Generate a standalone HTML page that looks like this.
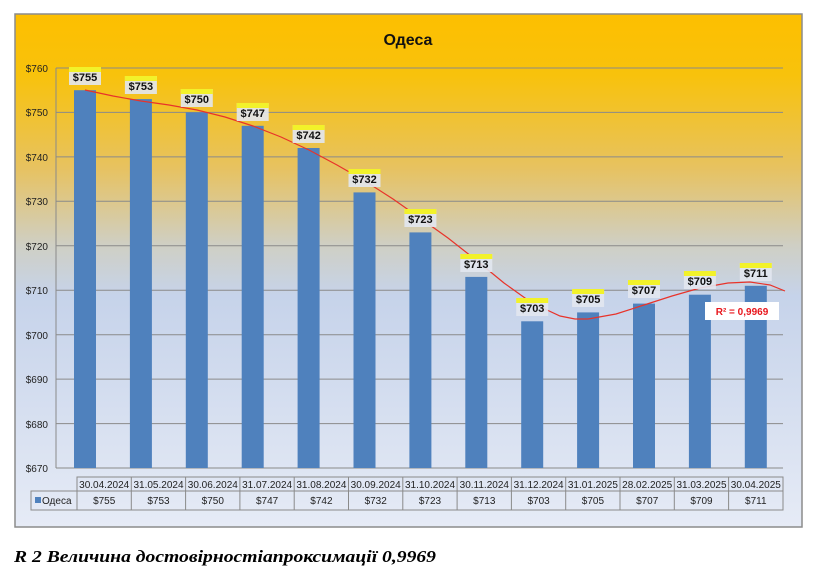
<!DOCTYPE html>
<html><head><meta charset="utf-8"><style>
html,body{margin:0;padding:0;background:#fff;}
svg{display:block;font-family:"Liberation Sans",sans-serif;}
</style></head><body>
<svg width="814" height="587" viewBox="0 0 814 587" xmlns="http://www.w3.org/2000/svg">
<defs>
<linearGradient id="bg" x1="0" y1="0" x2="0" y2="1">
<stop offset="0" stop-color="#fdbf00"/>
<stop offset="0.12" stop-color="#f8c20c"/>
<stop offset="0.3" stop-color="#e7c260"/>
<stop offset="0.45" stop-color="#cfcfc4"/>
<stop offset="0.55" stop-color="#c6d3ea"/>
<stop offset="1" stop-color="#e6ebf6"/>
</linearGradient>
</defs>
<rect x="0" y="0" width="814" height="587" fill="#fff"/>
<rect x="15" y="14" width="787" height="513" fill="url(#bg)" stroke="#8c8c8c" stroke-width="1.5"/>
<text x="408" y="45" font-size="16" font-weight="bold" text-anchor="middle" fill="#111">Одеса</text>
<g stroke="#8a8a8a" stroke-width="1">
<line x1="56" y1="68" x2="783" y2="68"/><line x1="56" y1="112.4" x2="783" y2="112.4"/>
<line x1="56" y1="156.9" x2="783" y2="156.9"/><line x1="56" y1="201.3" x2="783" y2="201.3"/>
<line x1="56" y1="245.8" x2="783" y2="245.8"/><line x1="56" y1="290.2" x2="783" y2="290.2"/>
<line x1="56" y1="334.7" x2="783" y2="334.7"/><line x1="56" y1="379.1" x2="783" y2="379.1"/>
<line x1="56" y1="423.6" x2="783" y2="423.6"/><line x1="56" y1="468" x2="783" y2="468"/>
<line x1="56" y1="68" x2="56" y2="468"/>
</g>
<g font-size="10" fill="#222" text-anchor="end">
<text x="48" y="72">$760</text><text x="48" y="116">$750</text><text x="48" y="161">$740</text>
<text x="48" y="205">$730</text><text x="48" y="250">$720</text><text x="48" y="294">$710</text>
<text x="48" y="339">$700</text><text x="48" y="383">$690</text><text x="48" y="428">$680</text>
<text x="48" y="472">$670</text>
</g>
<g fill="#4f81bd">
<rect x="74" y="90.2" width="22" height="377.8"/>
<rect x="129.9" y="99.1" width="22" height="368.9"/>
<rect x="185.8" y="112.4" width="22" height="355.6"/>
<rect x="241.7" y="125.8" width="22" height="342.2"/>
<rect x="297.6" y="148" width="22" height="320"/>
<rect x="353.5" y="192.4" width="22" height="275.6"/>
<rect x="409.4" y="232.4" width="22" height="235.6"/>
<rect x="465.3" y="276.9" width="22" height="191.1"/>
<rect x="521.2" y="321.3" width="22" height="146.7"/>
<rect x="577.1" y="312.4" width="22" height="155.6"/>
<rect x="633" y="303.6" width="22" height="164.4"/>
<rect x="688.9" y="294.7" width="22" height="173.3"/>
<rect x="744.8" y="285.8" width="22" height="182.2"/>
</g>
<polyline fill="none" stroke="#e8332a" stroke-width="1.2" points="85,90 113,96 141,101 169,105 197,110 225,117 253,126 281,137 309,150 337,165 365,181 393,199 420,218 448,238 476,260 504,283 532,303 560,316 575,319 588,319 616,314 644,305 672,296 700,288 728,283 750,282 770,285 785,291"/>
<g font-size="11" font-weight="bold" fill="#111" text-anchor="middle">
<g><rect x="69" y="67" width="32" height="18" fill="#e2e7ef" opacity="0.9"/><rect x="69" y="67" width="32" height="5" fill="#f2f22a"/><text x="85" y="81">$755</text></g>
<g><rect x="124.9" y="76" width="32" height="18" fill="#e2e7ef" opacity="0.9"/><rect x="124.9" y="76" width="32" height="5" fill="#f2f22a"/><text x="140.9" y="90">$753</text></g>
<g><rect x="180.8" y="89" width="32" height="18" fill="#e2e7ef" opacity="0.9"/><rect x="180.8" y="89" width="32" height="5" fill="#f2f22a"/><text x="196.8" y="103">$750</text></g>
<g><rect x="236.7" y="103" width="32" height="18" fill="#e2e7ef" opacity="0.9"/><rect x="236.7" y="103" width="32" height="5" fill="#f2f22a"/><text x="252.7" y="117">$747</text></g>
<g><rect x="292.6" y="125" width="32" height="18" fill="#e2e7ef" opacity="0.9"/><rect x="292.6" y="125" width="32" height="5" fill="#f2f22a"/><text x="308.6" y="139">$742</text></g>
<g><rect x="348.5" y="169" width="32" height="18" fill="#e2e7ef" opacity="0.9"/><rect x="348.5" y="169" width="32" height="5" fill="#f2f22a"/><text x="364.5" y="183">$732</text></g>
<g><rect x="404.4" y="209" width="32" height="18" fill="#e2e7ef" opacity="0.9"/><rect x="404.4" y="209" width="32" height="5" fill="#f2f22a"/><text x="420.4" y="223">$723</text></g>
<g><rect x="460.3" y="254" width="32" height="18" fill="#e2e7ef" opacity="0.9"/><rect x="460.3" y="254" width="32" height="5" fill="#f2f22a"/><text x="476.3" y="268">$713</text></g>
<g><rect x="516.2" y="298" width="32" height="18" fill="#e2e7ef" opacity="0.9"/><rect x="516.2" y="298" width="32" height="5" fill="#f2f22a"/><text x="532.2" y="312">$703</text></g>
<g><rect x="572.1" y="289" width="32" height="18" fill="#e2e7ef" opacity="0.9"/><rect x="572.1" y="289" width="32" height="5" fill="#f2f22a"/><text x="588.1" y="303">$705</text></g>
<g><rect x="628" y="280" width="32" height="18" fill="#e2e7ef" opacity="0.9"/><rect x="628" y="280" width="32" height="5" fill="#f2f22a"/><text x="644" y="294">$707</text></g>
<g><rect x="683.9" y="271" width="32" height="18" fill="#e2e7ef" opacity="0.9"/><rect x="683.9" y="271" width="32" height="5" fill="#f2f22a"/><text x="699.9" y="285">$709</text></g>
<g><rect x="739.8" y="263" width="32" height="18" fill="#e2e7ef" opacity="0.9"/><rect x="739.8" y="263" width="32" height="5" fill="#f2f22a"/><text x="755.8" y="277">$711</text></g>
</g>
<rect x="705" y="302" width="74" height="18" fill="#fff"/>
<text x="742" y="315" font-size="10" font-weight="bold" fill="#e8151b" text-anchor="middle">R² = 0,9969</text>
<g stroke="#8a8a8a" stroke-width="1" fill="none">
<rect x="77" y="477" width="706" height="33"/>
<rect x="31" y="491" width="46" height="19"/>
<line x1="77" y1="491" x2="783" y2="491"/>
<line x1="131.3" y1="477" x2="131.3" y2="510"/><line x1="185.6" y1="477" x2="185.6" y2="510"/>
<line x1="239.9" y1="477" x2="239.9" y2="510"/><line x1="294.2" y1="477" x2="294.2" y2="510"/>
<line x1="348.5" y1="477" x2="348.5" y2="510"/><line x1="402.8" y1="477" x2="402.8" y2="510"/>
<line x1="457.1" y1="477" x2="457.1" y2="510"/><line x1="511.4" y1="477" x2="511.4" y2="510"/>
<line x1="565.7" y1="477" x2="565.7" y2="510"/><line x1="620" y1="477" x2="620" y2="510"/>
<line x1="674.3" y1="477" x2="674.3" y2="510"/><line x1="728.6" y1="477" x2="728.6" y2="510"/>
</g>
<rect x="35" y="497" width="6" height="6" fill="#4f81bd"/>
<text x="42" y="504" font-size="10" fill="#222">Одеса</text>
<g font-size="10" fill="#222" text-anchor="middle">
<text x="104.2" y="488">30.04.2024</text><text x="158.5" y="488">31.05.2024</text><text x="212.8" y="488">30.06.2024</text>
<text x="267.1" y="488">31.07.2024</text><text x="321.4" y="488">31.08.2024</text><text x="375.7" y="488">30.09.2024</text>
<text x="430" y="488">31.10.2024</text><text x="484.3" y="488">30.11.2024</text><text x="538.6" y="488">31.12.2024</text>
<text x="592.9" y="488">31.01.2025</text><text x="647.2" y="488">28.02.2025</text><text x="701.5" y="488">31.03.2025</text>
<text x="755.8" y="488">30.04.2025</text>
<text x="104.2" y="504">$755</text><text x="158.5" y="504">$753</text><text x="212.8" y="504">$750</text>
<text x="267.1" y="504">$747</text><text x="321.4" y="504">$742</text><text x="375.7" y="504">$732</text>
<text x="430" y="504">$723</text><text x="484.3" y="504">$713</text><text x="538.6" y="504">$703</text>
<text x="592.9" y="504">$705</text><text x="647.2" y="504">$707</text><text x="701.5" y="504">$709</text>
<text x="755.8" y="504">$711</text>
</g>
<text x="14" y="562" font-family="'Liberation Serif',serif" font-size="17" font-weight="bold" font-style="italic" fill="#000" textLength="422" lengthAdjust="spacingAndGlyphs">R 2 Величина достовірностіапроксимації 0,9969</text>
</svg>
</body></html>
